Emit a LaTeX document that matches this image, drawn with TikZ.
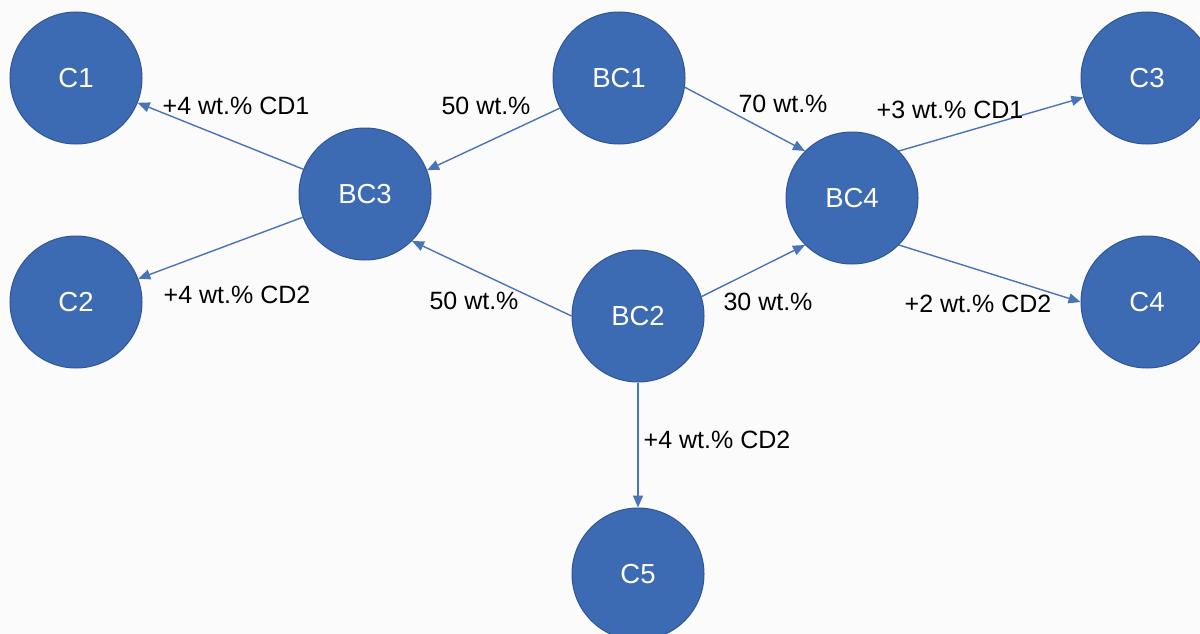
\documentclass[tikz,border=0pt]{standalone}
\usepackage{fontspec}
\setmainfont{Liberation Sans}
\usetikzlibrary{arrows.meta}
\definecolor{nodefill}{HTML}{3D6BB3}
\definecolor{nodeedge}{HTML}{2F5597}
\definecolor{linkcol}{HTML}{4A74B8}
\definecolor{bgcol}{HTML}{FBFBFB}
\tikzset{
  ball/.style={circle, fill=nodefill, draw=nodeedge, line width=1pt, minimum size=132pt, inner sep=0pt,
    text=white, font=\fontsize{27.5}{32}\selectfont},
  link/.style={draw=linkcol, line width=1.4pt, -{Triangle[length=12pt,width=10pt]}},
  lbl/.style={font=\fontsize{25}{30}\selectfont, text=black, inner sep=0pt}
}
\begin{document}
\begin{tikzpicture}[x=1pt,y=-1pt]
\useasboundingbox (0,0) rectangle (1200,634);
\clip (0,0) rectangle (1200,634);
\fill[bgcol] (0,0) rectangle (1200,634);
\node[ball] (c1) at (76,78) {C1};
\node[ball] (c2) at (76,302) {C2};
\node[ball] (bc3) at (365,194) {BC3};
\node[ball] (bc1) at (619,78) {BC1};
\node[ball] (bc2) at (638,316) {BC2};
\node[ball] (bc4) at (852,198) {BC4};
\node[ball] (c3) at (1147,78) {C3};
\node[ball] (c4) at (1147,302) {C4};
\node[ball] (c5) at (638,574) {C5};
\draw[link] (bc3) -- (c1);
\draw[link] (bc3) -- (c2);
\draw[link] (bc1.207) -- (bc3.21);
\draw[link] (bc2.180) -- (bc3.-45);
\draw[link] (bc1.-8) -- (bc4.135);
\draw[link] (bc2.17) -- (bc4.225);
\draw[link] (bc4.45) -- (c3.197);
\draw[link] (bc4.-45) -- (c4.180);
\draw[link] (bc2.south) -- (c5.north);
\node[lbl] (l1) at (236,106) {+4 wt.\% CD1};
\node[lbl] (l2) at (237,295) {+4 wt.\% CD2};
\node[lbl] (l3) at (486,106) {50 wt.\%};
\node[lbl] (l4) at (474,301) {50 wt.\%};
\node[lbl] (l5) at (783,104) {70 wt.\%};
\node[lbl] (l6) at (950,110) {+3 wt.\% CD1};
\node[lbl] (l7) at (768,302) {30 wt.\%};
\node[lbl] (l8) at (978,304) {+2 wt.\% CD2};
\node[lbl] (l9) at (717,440) {+4 wt.\% CD2};
\end{tikzpicture}
\end{document}
